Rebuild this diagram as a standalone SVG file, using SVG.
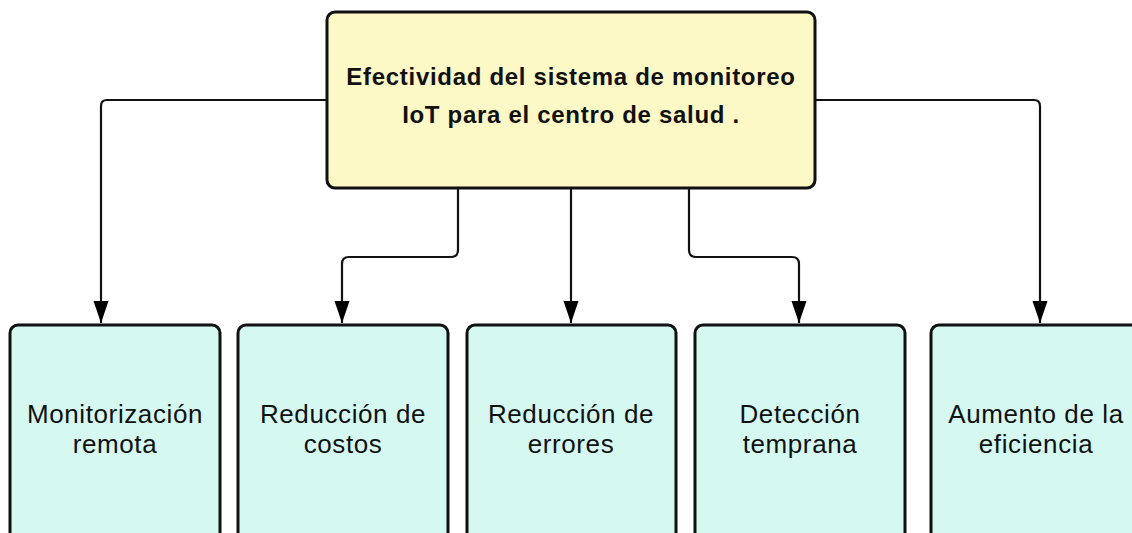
<svg xmlns="http://www.w3.org/2000/svg" width="1132" height="533" viewBox="0 0 1132 533">
  <style>
    .top { fill: #fcf9c7; stroke: #111; stroke-width: 3; }
    .leaf { fill: #d5f8f1; stroke: #111; stroke-width: 3; }
    .title { font-family: "Liberation Sans", Arial, sans-serif; font-weight: bold; font-size: 24px; letter-spacing: 0.7px; fill: #111; text-anchor: middle; }
    .lbl { font-family: "Liberation Sans", Arial, sans-serif; font-size: 26px; letter-spacing: 0.6px; fill: #111; text-anchor: middle; }
    .conn { fill: none; stroke: #111; stroke-width: 2.2; stroke-linejoin: round; }
  </style>
  <defs>
    <marker id="arr" markerUnits="userSpaceOnUse" markerWidth="23" markerHeight="16" refX="22" refY="7.5" orient="auto">
      <path d="M0,0 L22,7.5 L0,15 Z" fill="#000"/>
    </marker>
  </defs>
  <rect width="1132" height="533" fill="#ffffff"/>

  <g id="connectors">
    <path class="conn" d="M327,100 H107 Q101,100 101,106 V323" marker-end="url(#arr)"/>
    <path class="conn" d="M458,188 V250 Q458,257 451,257 H349 Q342,257 342,264 V323" marker-end="url(#arr)"/>
    <path class="conn" d="M571,188 V323" marker-end="url(#arr)"/>
    <path class="conn" d="M689,188 V250 Q689,257 696,257 H792 Q799,257 799,264 V323" marker-end="url(#arr)"/>
    <path class="conn" d="M815,100 H1034 Q1040,100 1040,106 V323" marker-end="url(#arr)"/>
  </g>

  <g id="root">
    <rect class="top" x="327" y="12" width="488" height="176" rx="8"/>
    <text class="title" x="571" y="85">Efectividad del sistema de monitoreo</text>
    <text class="title" x="571" y="123">IoT para el centro de salud .</text>
  </g>

  <g id="n1">
    <rect class="leaf" x="10" y="325" width="210" height="230" rx="8"/>
    <text class="lbl" x="115" y="423">Monitorización</text>
    <text class="lbl" x="115" y="453">remota</text>
  </g>
  <g id="n2">
    <rect class="leaf" x="238" y="325" width="210" height="230" rx="8"/>
    <text class="lbl" x="343" y="423">Reducción de</text>
    <text class="lbl" x="343" y="453">costos</text>
  </g>
  <g id="n3">
    <rect class="leaf" x="467" y="325" width="209" height="230" rx="8"/>
    <text class="lbl" x="571" y="423">Reducción de</text>
    <text class="lbl" x="571" y="453">errores</text>
  </g>
  <g id="n4">
    <rect class="leaf" x="695" y="325" width="210" height="230" rx="8"/>
    <text class="lbl" x="800" y="423">Detección</text>
    <text class="lbl" x="800" y="453">temprana</text>
  </g>
  <g id="n5">
    <rect class="leaf" x="931" y="325" width="210" height="230" rx="8"/>
    <text class="lbl" x="1036" y="423">Aumento de la</text>
    <text class="lbl" x="1036" y="453">eficiencia</text>
  </g>
</svg>
